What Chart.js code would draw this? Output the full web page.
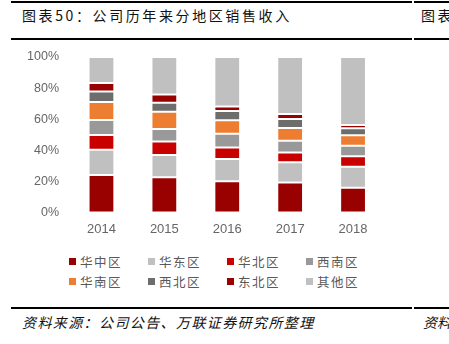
<!DOCTYPE html>
<html>
<head>
<meta charset="utf-8">
<script src="https://cdn.jsdelivr.net/npm/chart.js@4/dist/chart.umd.min.js"></script>
<style>
  html, body { margin:0; padding:0; background:#fff; }
  body { width:449px; height:344px; position:relative; overflow:hidden; font-family:"Noto Sans CJK SC", sans-serif; }
  .rule { position:absolute; left:11px; height:2px; background:#000; z-index:2; }
  .title { position:absolute; left:22px; top:5px; font-size:14px; letter-spacing:2.6px; color:#111; white-space:nowrap; }
  .title2 { position:absolute; left:421px; top:5px; font-size:14px; letter-spacing:2.6px; color:#111; white-space:nowrap; }
  .src { position:absolute; left:22px; top:312px; font-size:14px; font-style:italic; letter-spacing:1.4px; color:#111; white-space:nowrap; }
  .src2 { position:absolute; left:423px; top:312px; font-size:14px; font-style:italic; color:#111; white-space:nowrap; }
  #wrap { position:absolute; left:0; top:40px; width:449px; height:210px; }
  #legend { position:absolute; left:69px; top:253px; width:330px; display:grid; grid-template-columns:repeat(4,79px); row-gap:3px; }
  .li { display:flex; align-items:center; font-size:12.5px; color:#595959; letter-spacing:1.5px; height:17px; }
  .sw { width:7px; height:7px; margin-right:4px; flex:none; }
</style>
</head>
<body>
<div class="rule" style="top:1px;width:401px"></div>
<div class="rule" style="top:1px;left:414px;width:40px"></div>
<div class="title">图表50：公司历年来分地区销售收入</div>
<div class="title2">图表</div>
<div class="rule" style="top:38px;width:401px"></div>
<div class="rule" style="top:38px;left:414px;width:40px"></div>
<div id="wrap"><canvas id="c"></canvas></div>
<div id="legend"></div>
<div class="rule" style="top:307px;width:401px"></div>
<div class="rule" style="top:307px;left:414px;width:40px"></div>
<div class="src">资料来源：公司公告、万联证券研究所整理</div>
<div class="src2">资料</div>
<script>
const years = ['2014','2015','2016','2017','2018'];
const seriesNames = ['华中区','华东区','华北区','西南区','华南区','西北区','东北区','其他区'];
const huazhong = [24.1, 22.6, 20.0, 19.2, 15.9];
const huadong  = [16.2, 14.3, 14.3, 13.1, 13.4];
const huabei   = [9.5, 8.8, 7.5, 6.3, 6.9];
const xinan    = [9.7, 8.0, 8.8, 7.5, 6.7];
const huanan   = [11.6, 11.0, 8.7, 8.2, 6.7];
const xibei    = [6.7, 5.8, 6.0, 5.8, 4.5];
const dongbei  = [5.4, 5.4, 2.8, 3.3, 2.2];
const qita     = [16.8, 24.1, 31.9, 36.6, 43.7];
const yTicks = [0, 20, 40, 60, 80, 100];
const colors = ['#990000','#C0C0C0','#C80000','#999999','#ED7D31','#6D6D6D','#990000','#C0C0C0'];
const values = [huazhong, huadong, huabei, xinan, huanan, xibei, dongbei, qita];

const datasets = seriesNames.map((n, i) => ({
  label: n,
  data: values[i],
  backgroundColor: colors[i],
  borderColor: 'rgba(255,255,255,0.45)',
  borderWidth: 1,
  borderSkipped: false,
  barPercentage: 0.41,
  categoryPercentage: 1.0
}));

new Chart(document.getElementById('c'), {
  type: 'bar',
  data: { labels: years, datasets },
  options: {
    responsive: true,
    maintainAspectRatio: false,
    animation: false,
    layout: { padding: { top: 0, left: 26, right: 64.5, bottom: 4 } },
    plugins: { legend: { display: false }, tooltip: { enabled: false } },
    scales: {
      x: {
        stacked: true,
        grid: { display: false, drawTicks: false },
        border: { display: false },
        ticks: { color: '#666', font: { family: 'Liberation Sans', size: 13 }, padding: 9 }
      },
      y: {
        stacked: true,
        min: 0, max: 100,
        afterBuildTicks: (ax) => { ax.ticks = yTicks.map(v => ({ value: v })); },
        afterFit: (ax) => { ax.width = 44; ax.paddingTop = 17; },
        grid: { display: false, drawTicks: false },
        border: { display: false },
        ticks: { color: '#666', font: { family: 'Liberation Sans', size: 12.5 }, padding: 11, callback: v => v + '%' }
      }
    }
  }
});

const lg = document.getElementById('legend');
seriesNames.forEach((n, i) => {
  const d = document.createElement('div');
  d.className = 'li';
  d.innerHTML = '<span class="sw" style="background:' + colors[i] + '"></span><span>' + n + '</span>';
  lg.appendChild(d);
});
</script>
</body>
</html>
